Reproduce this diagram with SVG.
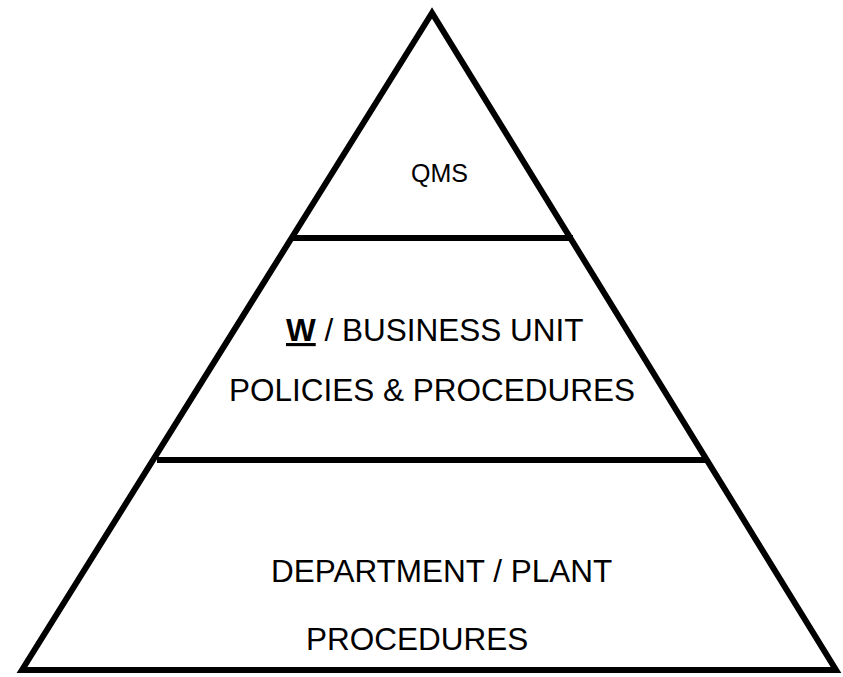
<svg xmlns="http://www.w3.org/2000/svg" width="843" height="677" viewBox="0 0 843 677">
<style>
.edge{fill:none;stroke:#000;stroke-width:6;stroke-linejoin:miter}
.t{font-family:"Liberation Sans",Arial,sans-serif;font-size:31.5px;fill:#000}
.q{font-size:25px}
</style>
<rect width="843" height="677" fill="#fff"/>
<g id="connectors">
<polygon class="edge" points="432,13 22,670 836,670"/>
<line class="edge" x1="290" y1="238" x2="573" y2="238"/>
<line class="edge" x1="157" y1="460" x2="706" y2="460"/>
</g>
<g id="qms"><text class="t q" x="411" y="182">QMS</text></g>
<g id="business-unit">
<text class="t" x="286" y="341"><tspan font-weight="bold" text-decoration="underline">W</tspan> / BUSINESS UNIT</text>
<text class="t" x="229" y="401">POLICIES &amp; PROCEDURES</text>
</g>
<g id="department">
<text class="t" x="271" y="582">DEPARTMENT / PLANT</text>
<text class="t" x="306" y="650">PROCEDURES</text>
</g>
</svg>
